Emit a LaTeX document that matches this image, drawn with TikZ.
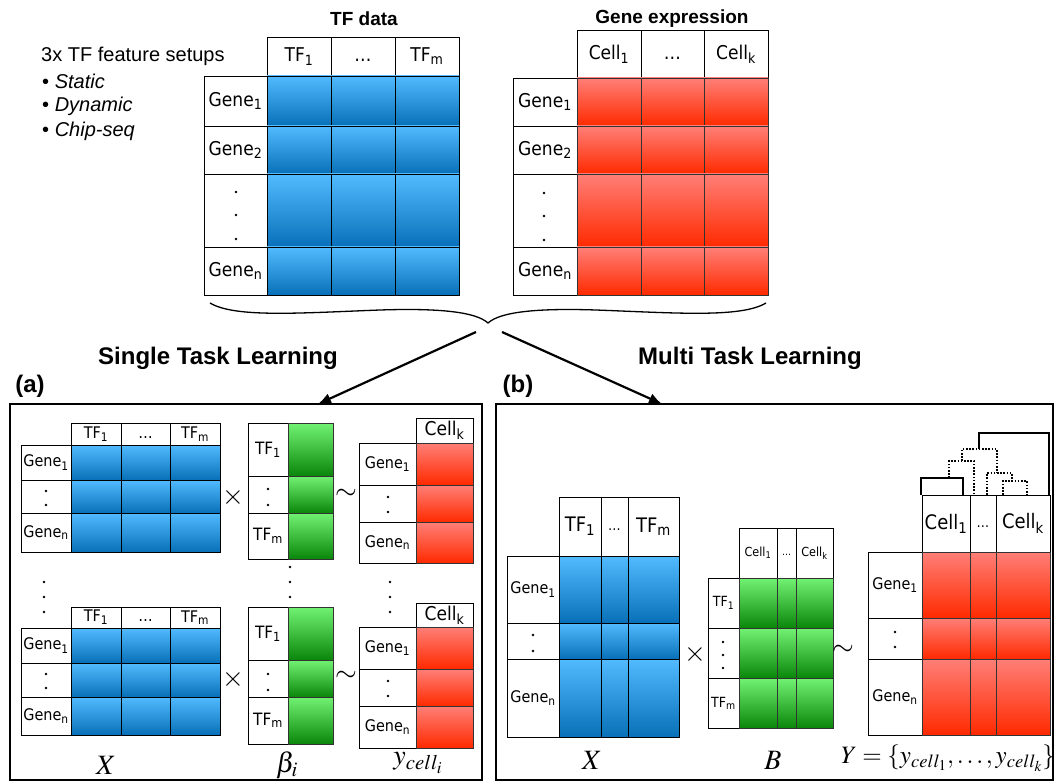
\documentclass[tikz,border=0pt]{standalone}
\usepackage{mathptmx}
\usepackage{fontspec}
\setmainfont{Liberation Sans}
\newfontfamily\cf[FakeStretch=0.9]{DejaVu Sans}
\usetikzlibrary{arrows.meta}
\newcommand\fsz[1]{\fontsize{#1}{#1}\selectfont}
\definecolor{bluetop}{HTML}{52BBFF}
\definecolor{bluebot}{HTML}{0770B8}
\definecolor{redtop}{HTML}{FF7F77}
\definecolor{redbot}{HTML}{FF2A00}
\definecolor{greentop}{HTML}{72F272}
\definecolor{greenbot}{HTML}{0A870A}
\tikzset{
  wc/.style={draw=black, line width=0.8pt, fill=white},
  bl/.style={top color=bluetop, bottom color=bluebot, draw=black, line width=0.8pt},
  rd/.style={top color=redtop, bottom color=redbot, draw=black!80, line width=0.8pt},
  gr/.style={top color=greentop, bottom color=greenbot, draw=black!80, line width=0.8pt},
  ct/.style={inner sep=0pt},
  ttl/.style={inner sep=0pt, font=\bfseries\fsz{19}},
  big/.style={inner sep=0pt, font=\bfseries\fsz{24}},
  ml/.style={inner sep=0pt, font=\fsz{28}},
  tl/.style={inner sep=0pt, anchor=west, font=\fsz{20}},
  panel/.style={draw=black, line width=2.4pt},
  arr/.style={line width=2.2pt, -{Latex[length=13pt,width=11pt]}},
  dsolid/.style={line width=1.6pt},
  ddot/.style={line width=1.6pt, dash pattern=on 1.6pt off 1.6pt},
}
\newcounter{cn}
\newcommand\tc[6]{%
  \stepcounter{cn}%
  \draw[wc] (#1,#2) rectangle (#3,#4);
  \node[ct,font=\cf\fsz{#5}] (n\the\value{cn}) at ({(#1+#3)/2},{(#2+#4)/2}) {#6};}
\newcommand\sg[3]{\foreach \xa/\xb in {#1}{\foreach \ya/\yb in {#2}{\path[#3] (\xa,\ya) rectangle (\xb,\yb);}}}
\newcommand\vd[2]{\foreach \yy in {#2}{\fill (#1,\yy) circle (1.4pt);}}
\newcommand\s[1]{\textsubscript{#1}}
\newcommand\dd{\vphantom{TF\s{1}}\textellipsis}
\begin{document}
\begin{tikzpicture}[x=1pt,y=-1pt]
\useasboundingbox (0,0) rectangle (1056,783);

% ---------- top left text ----------
\node[tl] (setups) at (41,56) {3x TF feature setups};
\node[tl] (b1) at (42,81) {\textbullet\ \textit{Static}};
\node[tl] (b2) at (42,106) {\textbullet\ \textit{Dynamic}};
\node[tl] (b3) at (42,131) {\textbullet\ \textit{Chip-seq}};

% ---------- TF data ----------
\node[ttl] (tftitle) at (364,19) {TF data};
\tc{267}{37}{331}{76}{19}{TF\s{1}}
\tc{331}{37}{395}{76}{19}{\dd}
\tc{395}{37}{459}{76}{19}{TF\s{m}}
\tc{204}{76}{267}{126}{19}{Gene\s{1}}
\tc{204}{126}{267}{174}{19}{Gene\s{2}}
\tc{204}{174}{267}{247}{19}{}
\tc{204}{247}{267}{295}{19}{Gene\s{n}}
\vd{236}{192,215,239}
\sg{267/331,331/395,395/459}{76/126,126/174,174/247,247/295}{bl}

% ---------- Gene expression ----------
\node[ttl] (getitle) at (672,19) {Gene expression};
\tc{577}{30}{641}{78}{19}{Cell\s{1}}
\tc{641}{30}{704}{78}{19}{\dd}
\tc{704}{30}{768}{78}{19}{Cell\s{k}}
\tc{513}{78}{577}{126}{19}{Gene\s{1}}
\tc{513}{126}{577}{174}{19}{Gene\s{2}}
\tc{513}{174}{577}{247}{19}{}
\tc{513}{247}{577}{295}{19}{Gene\s{n}}
\vd{544}{193,216,240}
\sg{577/641,641/704,704/768}{78/126,126/174,174/247,247/295}{rd}

% ---------- brace and arrows ----------
\coordinate (braceL) at (210,303);
\coordinate (braceTip) at (488,323);
\coordinate (braceR) at (766,303);
\draw[line width=1.3pt] (braceL) .. controls (235,318) and (300,313) .. (380,310)
  .. controls (440,308) and (476,312) .. (braceTip)
  .. controls (500,312) and (536,308) .. (596,310)
  .. controls (676,313) and (741,318) .. (braceR);
\coordinate (arrLs) at (476,332);
\coordinate (arrRs) at (502,332);
\coordinate (aTop) at (318,404);
\coordinate (bTop) at (662,404);
\draw[arr] (arrLs) -- (aTop);
\draw[arr] (arrRs) -- (bTop);

\node[big] (stl) at (218,358) {Single Task Learning};
\node[big] (mtl) at (750,358) {Multi Task Learning};
\node[big] (la) at (30,386) {(a)};
\node[big] (lb) at (518,386) {(b)};

% ---------- panels ----------
\draw[panel] (10,404) rectangle (482,780);
\draw[panel] (496,404) rectangle (1053,780);

% ---------- panel (a) : X top ----------
\tc{71}{423}{121}{445}{16}{TF\s{1}}
\tc{121}{423}{170}{445}{16}{\dd}
\tc{170}{423}{220}{445}{16}{TF\s{m}}
\tc{21}{445}{71}{480}{16}{Gene\s{1}}
\tc{21}{480}{71}{513}{16}{}
\tc{21}{513}{71}{552}{16}{Gene\s{n}}
\vd{46}{491,505}
\sg{71/121,121/170,170/220}{445/480,480/513,513/552}{bl}
\node[ml] (x1) at (233,497) {$\times$};
% X bottom
\tc{71}{607}{121}{628}{16}{TF\s{1}}
\tc{121}{607}{170}{628}{16}{\dd}
\tc{170}{607}{220}{628}{16}{TF\s{m}}
\tc{21}{628}{71}{663}{16}{Gene\s{1}}
\tc{21}{663}{71}{697}{16}{}
\tc{21}{697}{71}{735}{16}{Gene\s{n}}
\vd{46}{674,688}
\sg{71/121,121/170,170/220}{628/663,663/697,697/735}{bl}
\node[ml] (x2) at (233,679) {$\times$};
\vd{44}{582,597,612}

% beta top
\tc{248}{423}{288}{476}{17}{TF\s{1}}
\tc{248}{476}{288}{513}{17}{}
\tc{248}{513}{288}{559}{17}{TF\s{m}}
\vd{268}{489,505}
\sg{288/333}{423/476,476/513,513/559}{gr}
% beta bottom
\tc{248}{607}{288}{660}{17}{TF\s{1}}
\tc{248}{660}{288}{697}{17}{}
\tc{248}{697}{288}{744}{17}{TF\s{m}}
\vd{268}{674,690}
\sg{288/333}{607/660,660/697,697/744}{gr}
\vd{290}{567,582,597}
\node[ml] (t1) at (346,494) {$\sim$};
\node[ml] (t2) at (346,676) {$\sim$};

% y top
\tc{416}{418}{473}{443}{19}{Cell\s{k}}
\tc{359}{443}{416}{485}{16}{Gene\s{1}}
\tc{359}{485}{416}{522}{16}{}
\tc{359}{522}{416}{563}{16}{Gene\s{n}}
\vd{388}{497,512}
\sg{416/473}{443/485,485/522,522/563}{rd}
% y bottom
\tc{416}{603}{473}{627}{19}{Cell\s{k}}
\tc{359}{627}{416}{669}{16}{Gene\s{1}}
\tc{359}{669}{416}{706}{16}{}
\tc{359}{706}{416}{748}{16}{Gene\s{n}}
\vd{388}{681,696}
\sg{416/473}{627/669,669/706,706/748}{rd}
\vd{390}{582,597,612}

\node[ml] (lx) at (106,765) {$X$};
\node[ml] (lbeta) at (287,765) {$\beta_i$};
\node[ml] (ly) at (418,763) {$y_{cell_i}$};

% ---------- panel (b) ----------
\tc{559}{497}{601}{556}{20}{TF\s{1}}
\tc{601}{497}{628}{556}{14}{\dd}
\tc{628}{497}{679}{556}{20}{TF\s{m}}
\tc{507}{556}{559}{623}{16}{Gene\s{1}}
\tc{507}{623}{559}{659}{16}{}
\tc{507}{659}{559}{737}{16}{Gene\s{n}}
\vd{533}{635,651}
\sg{559/601,601/628,628/679}{556/623,623/659,659/737}{bl}
\node[ml] (x3) at (695,654) {$\times$};

\tc{739}{528}{777}{578}{12.5}{Cell\s{1}}
\tc{777}{528}{796}{578}{10}{\dd}
\tc{796}{528}{833}{578}{12.5}{Cell\s{k}}
\tc{708}{578}{739}{628}{14}{TF\s{1}}
\tc{708}{628}{739}{678}{14}{}
\tc{708}{678}{739}{728}{14}{TF\s{m}}
\vd{723}{642,655,668}
\sg{739/777,777/796,796/833}{578/628,628/678,678/728}{gr}
\node[ml] (t3) at (843,650) {$\sim$};

\tc{922}{495}{970}{552}{20}{Cell\s{1}}
\tc{970}{495}{996}{552}{14}{\dd}
\tc{996}{495}{1050}{552}{20}{Cell\s{k}}
\tc{868}{552}{922}{618}{16}{Gene\s{1}}
\tc{868}{618}{922}{659}{16}{}
\tc{868}{659}{922}{735}{16}{Gene\s{n}}
\vd{895}{632,647}
\sg{922/970,970/996,996/1050}{552/618,618/659,659/735}{rd}

% dendrogram
\draw[dsolid] (921,495) -- (921,478) -- (963,478) -- (963,495);
\draw[dsolid] (979,449) -- (979,433) -- (1049,433) -- (1049,495);
\draw[ddot] (962,461) -- (962,449) -- (997,449) -- (997,473);
\draw[ddot] (949,478) -- (949,461) -- (974,461) -- (974,495);
\draw[ddot] (987,495) -- (987,473) -- (1012,473) -- (1012,481);
\draw[ddot] (1003,495) -- (1003,481) -- (1027,481) -- (1027,495);

\node[ml] (lx2) at (592,760) {$X$};
\node[ml] (lB) at (773,760) {$B$};
\node[inner sep=0pt, font=\fsz{25}] (lY) at (948,758) {$Y=\{y_{cell_1},\ldots,y_{cell_k}\}$};
\end{tikzpicture}
\end{document}
